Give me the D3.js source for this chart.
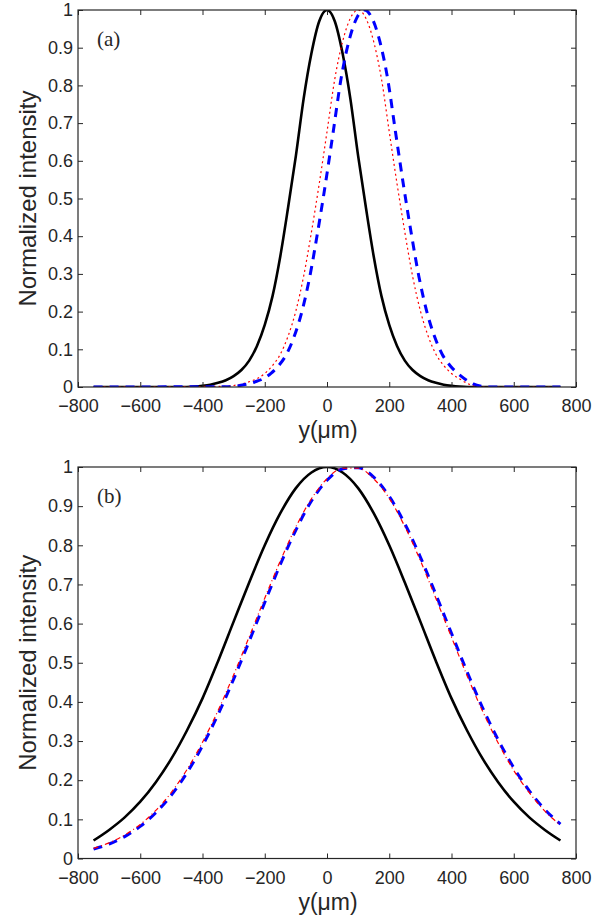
<!DOCTYPE html>
<html>
<head>
<meta charset="utf-8">
<script src="https://cdn.jsdelivr.net/npm/d3@7"></script>
<style>
  body { margin: 0; background: #fff; }
  svg text { font-family: "Liberation Sans", Arial, Helvetica, sans-serif; fill: #262626; }
</style>
</head>
<body>
<div id="chart"></div>
<script>
// axis ticks
const xTicks = [-800, -600, -400, -200, 0, 200, 400, 600, 800];
const xTickLabels = ["\u2212800", "\u2212600", "\u2212400", "\u2212200", "0", "200", "400", "600", "800"];
const yTicks = [0, 0.1, 0.2, 0.3, 0.4, 0.5, 0.6, 0.7, 0.8, 0.9, 1];
const yTickLabels = ["0", "0.1", "0.2", "0.3", "0.4", "0.5", "0.6", "0.7", "0.8", "0.9", "1"];

// panel (a)
const blackA_y = [-750, -450, -425, -400, -375, -350, -325, -300, -275, -250, -225, -200, -175, -150, -125, -100, -75, -50, -25, 0,
                  25, 50, 75, 100, 125, 150, 175, 200, 225, 250, 275, 300, 325, 350, 375, 400, 425, 450, 750];
const blackA = [0, 0, 0.001, 0.003, 0.006, 0.011, 0.018, 0.029, 0.045, 0.07, 0.109, 0.165, 0.241, 0.347, 0.476, 0.613, 0.765, 0.885, 0.97, 1,
                0.97, 0.885, 0.765, 0.613, 0.476, 0.347, 0.241, 0.165, 0.109, 0.07, 0.045, 0.029, 0.018, 0.011, 0.006, 0.003, 0.001, 0, 0];

const redA_y = [-750, -325, -300, -275, -250, -225, -200, -175, -150, -125, -100, -75, -50, -25, 0, 25, 50, 75, 100,
                125, 150, 175, 200, 225, 250, 275, 300, 325, 350, 375, 400, 425, 450, 475, 500, 750];
const redA = [0, 0.002, 0.004, 0.008, 0.014, 0.022, 0.036, 0.057, 0.087, 0.135, 0.202, 0.294, 0.411, 0.539, 0.677, 0.817, 0.916, 0.978, 1,
              0.978, 0.916, 0.817, 0.677, 0.539, 0.411, 0.294, 0.202, 0.135, 0.087, 0.057, 0.036, 0.022, 0.01, 0.003, 0, 0];

const blueA_y = [-750, -305, -280, -255, -230, -205, -180, -155, -130, -105, -80, -55, -30, -5, 20, 45, 70, 95, 120,
                 145, 170, 195, 220, 245, 270, 295, 320, 345, 370, 395, 420, 445, 470, 495, 520, 750];
const blueA = [0, 0.001, 0.004, 0.008, 0.014, 0.022, 0.036, 0.057, 0.087, 0.135, 0.202, 0.294, 0.411, 0.539, 0.677, 0.817, 0.916, 0.978, 1,
               0.978, 0.916, 0.817, 0.677, 0.539, 0.411, 0.294, 0.202, 0.135, 0.087, 0.057, 0.036, 0.02, 0.008, 0.002, 0, 0];

// panel (b)
const posB = [-750, -700, -650, -600, -550, -500, -450, -400, -350, -300, -250, -200, -150, -100, -50, 0, 50, 100, 150, 200, 250, 300, 350, 400, 450, 500, 550, 600, 650, 700, 750];
const blackB = [0.046, 0.073, 0.105, 0.145, 0.195, 0.255, 0.327, 0.409, 0.504, 0.605, 0.705, 0.8, 0.882, 0.946, 0.986, 1, 0.986, 0.946, 0.882, 0.8, 0.705, 0.605, 0.504, 0.409, 0.327, 0.255, 0.195, 0.145, 0.105, 0.073, 0.046];
const blueB = [0.024, 0.037, 0.056, 0.082, 0.117, 0.162, 0.219, 0.288, 0.368, 0.458, 0.555, 0.654, 0.751, 0.839, 0.913, 0.966, 0.995, 0.998, 0.974, 0.925, 0.855, 0.77, 0.674, 0.575, 0.477, 0.385, 0.303, 0.232, 0.173, 0.125, 0.088];
const redB = [0.026, 0.04, 0.06, 0.087, 0.123, 0.169, 0.227, 0.297, 0.378, 0.469, 0.566, 0.665, 0.76, 0.847, 0.919, 0.97, 0.997, 0.997, 0.97, 0.92, 0.848, 0.761, 0.664, 0.565, 0.467, 0.376, 0.295, 0.225, 0.168, 0.121, 0.085];

const svg = d3.select("#chart").append("svg")
    .attr("width", 607)
    .attr("height", 915);

drawPanel({
    id: "a", top: 10, bottom: 387, tag: "(a)",
    series: [
        {xs: blackA_y, vals: blackA, color: "#000", width: 2.6, dash: null},
        {xs: redA_y, vals: redA, color: "#ff0000", width: 1.2, dash: "2,3"},
        {xs: blueA_y, vals: blueA, color: "#0000ff", width: 3, dash: "9,7"}
    ]
});

drawPanel({
    id: "b", top: 467, bottom: 858.5, tag: "(b)",
    series: [
        {xs: posB, vals: blackB, color: "#000", width: 2.6, dash: null},
        {xs: posB, vals: blueB, color: "#0000ff", width: 3, dash: "9,7"},
        {xs: posB, vals: redB, color: "#ff0000", width: 1.2, dash: "5,3,1,3"}
    ]
});

function drawPanel(p) {
    const x = d3.scaleLinear().domain([-800, 800]).range([78, 576]);
    const y = d3.scaleLinear().domain([0, 1]).range([p.bottom, p.top]);
    const g = svg.append("g");

    g.append("clipPath")
        .attr("id", "clip-" + p.id)
        .append("rect")
        .attr("x", 78).attr("y", p.top)
        .attr("width", 576 - 78).attr("height", p.bottom - p.top);

    const line = d3.line()
        .x(d => x(d[0]))
        .y(d => y(d[1]))
        .curve(d3.curveMonotoneX);

    p.series.forEach(s => {
        g.append("path")
            .attr("clip-path", `url(#clip-${p.id})`)
            .attr("d", line(s.xs.map((v, i) => [v, s.vals[i]])))
            .attr("fill", "none")
            .attr("stroke", s.color)
            .attr("stroke-width", s.width)
            .attr("stroke-dasharray", s.dash);
    });

    // axes with inward ticks on all four sides
    g.append("g")
        .attr("transform", `translate(0, ${p.bottom})`)
        .call(d3.axisBottom(x).tickValues(xTicks).tickSizeInner(-5).tickSizeOuter(0).tickPadding(12.5)
            .tickFormat((d, i) => xTickLabels[i]));
    g.append("g")
        .attr("transform", `translate(0, ${p.top})`)
        .call(d3.axisTop(x).tickValues(xTicks).tickSizeInner(-5).tickSizeOuter(0).tickFormat(""));
    g.append("g")
        .attr("transform", "translate(78, 0)")
        .call(d3.axisLeft(y).tickValues(yTicks).tickSizeInner(-5).tickSizeOuter(0).tickPadding(5)
            .tickFormat((d, i) => yTickLabels[i]));
    g.append("g")
        .attr("transform", "translate(576, 0)")
        .call(d3.axisRight(y).tickValues(yTicks).tickSizeInner(-5).tickSizeOuter(0).tickFormat(""));

    g.selectAll(".domain").remove();
    g.selectAll(".tick line").attr("stroke", "#262626");
    g.selectAll(".tick text")
        .style("font-size", "18px")
        .attr("fill", "#262626");

    g.append("rect")
        .attr("x", 78).attr("y", p.top)
        .attr("width", 576 - 78).attr("height", p.bottom - p.top)
        .attr("fill", "none")
        .attr("stroke", "#262626")
        .attr("stroke-width", 1.2);

    g.append("text")
        .attr("x", 328)
        .attr("y", p.bottom + 51)
        .attr("text-anchor", "middle")
        .style("font-size", "23px")
        .text("y(\u03bcm)");

    g.append("text")
        .attr("transform", `translate(36, ${(p.top + p.bottom) / 2}) rotate(-90)`)
        .attr("text-anchor", "middle")
        .style("font-size", "24px")
        .text("Normalized intensity");

    g.append("text")
        .attr("x", 97)
        .attr("y", p.top + 36)
        .style("font-family", "'Liberation Serif', 'Times New Roman', serif")
        .style("font-size", "21px")
        .attr("fill", "#000")
        .text(p.tag);
}
</script>
</body>
</html>
